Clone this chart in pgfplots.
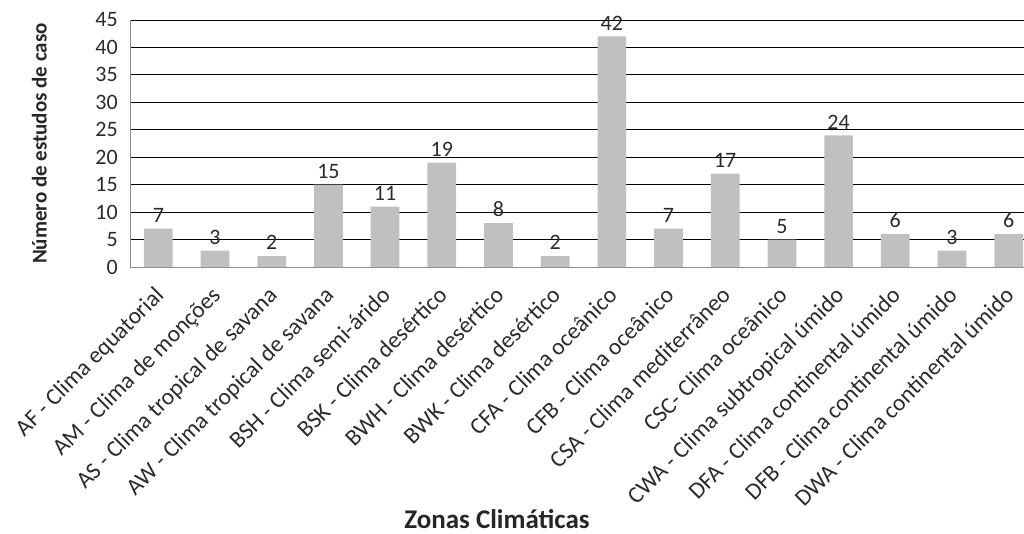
\documentclass[border=0pt]{standalone}
\usepackage{pgfplots}
\pgfplotsset{compat=1.18}
\usepackage{fontspec}
\setmainfont{Carlito}
\newcommand\tickfont{\fontsize{22}{26}\selectfont}
\newcommand\catfont{\fontsize{23.5}{28}\selectfont}
\newcommand\xtitlefont{\fontsize{27}{31}\selectfont\bfseries}
\newcommand\ytitlefont{\fontsize{21}{25}\selectfont\bfseries}
\definecolor{barfill}{HTML}{C0C0C0}
\definecolor{axisgray}{HTML}{8C8C8C}
\definecolor{txt}{HTML}{2B2B2B}

\begin{document}
\begin{tikzpicture}
\begin{axis}[
  scale only axis,
  width=907pt, height=247pt,
  xmin=-0.5, xmax=15.5,
  ymin=0, ymax=45,
  ytick={0,5,...,45},
  xtick={0,...,15},
  xticklabels={
    AF - Clima equatorial,
    AM - Clima de monções,
    AS - Clima tropical de savana,
    AW - Clima tropical de savana,
    BSH - Clima semi-árido,
    BSK - Clima desértico,
    BWH - Clima desértico,
    BWK - Clima desértico,
    CFA - Clima oceânico,
    CFB - Clima oceânico,
    CSA - Clima mediterrâneo,
    CSC- Clima oceânico,
    CWA - Clima subtropical úmido,
    DFA - Clima continental úmido,
    DFB - Clima continental úmido,
    DWA - Clima continental úmido},
  major tick length=0pt,
  axis x line*=bottom,
  axis y line*=left,
  axis line style={axisgray, line width=0.9pt},
  ymajorgrids,
  grid style={black, line width=0.9pt},
  /pgf/number format/assume math mode=true,
  yticklabel style={font=\tickfont, text=txt, inner sep=0pt, anchor=east, xshift=-12pt},
  xticklabel style={font=\catfont, text=txt, inner sep=0pt, xshift=-5pt, yshift=-18pt, rotate=45, anchor=north east},
  ylabel={Número de estudos de caso},
  xlabel={Zonas Climáticas},
  every axis y label/.style={at={(axis description cs:-0.0915,0.5)}, rotate=90, anchor=south, inner sep=0pt, font=\ytitlefont, text=black!85},
  every axis x label/.style={at={(axis description cs:0.4046,-1.057)}, anchor=base, inner sep=0pt, font=\xtitlefont, text=black!85},
  ybar, bar width=28.7pt,
  nodes near coords,
  every node near coord/.append style={font=\tickfont, text=txt, inner sep=0pt, yshift=6pt, anchor=south},
  clip=false,
]
\addplot[fill=barfill, draw=none] coordinates {
  (0,7) (1,3) (2,2) (3,15) (4,11) (5,19) (6,8) (7,2)
  (8,42) (9,7) (10,17) (11,5) (12,24) (13,6) (14,3) (15,6)
};
\end{axis}
\pgfresetboundingbox
\path[use as bounding box] (-130pt,-266pt) rectangle (894pt,267pt);
\end{tikzpicture}
\end{document}
